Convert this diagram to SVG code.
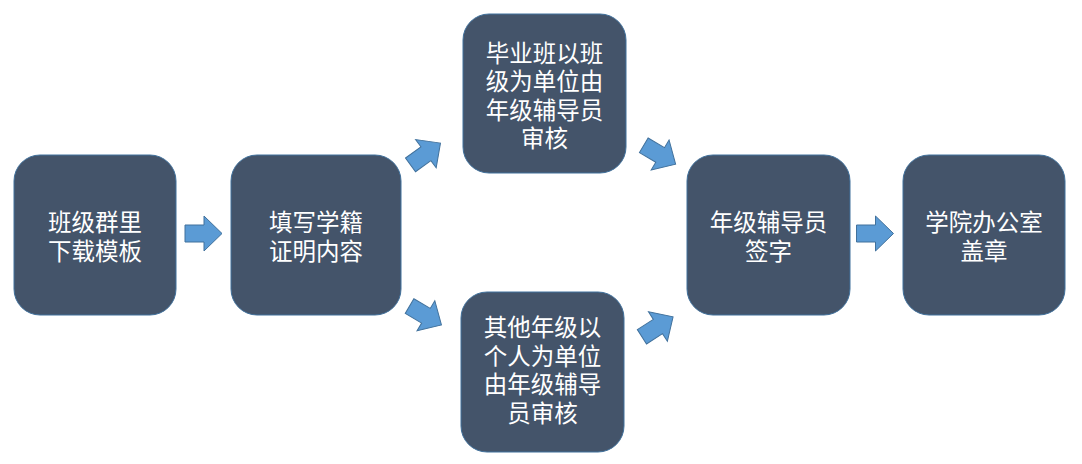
<svg xmlns="http://www.w3.org/2000/svg" width="1082" height="464" viewBox="0 0 1082 464">
<defs>
<style>
.box{fill:#44546A;stroke:#41719C;stroke-width:1}
.t{fill:#FFFFFF;font-family:"Liberation Sans","Noto Sans CJK SC",sans-serif;font-size:23.5px;text-anchor:middle}
.arr{fill:#5B9BD5;stroke:#41719C;stroke-width:1}
</style>
<path id="a" d="M-18.5,-8.5 L0.5,-8.5 L0.5,-17.5 L18.5,0 L0.5,17.5 L0.5,8.5 L-18.5,8.5 Z"/>
</defs>
<rect width="1082" height="464" fill="#FFFFFF"/>
<g id="connectors">
<use href="#a" class="arr" transform="translate(203.5,233.5)"/>
<use href="#a" class="arr" transform="translate(425.5,154) rotate(-36)"/>
<use href="#a" class="arr" transform="translate(425.5,315.5) rotate(30.5)"/>
<use href="#a" class="arr" transform="translate(659.7,154.7) rotate(30.7)"/>
<use href="#a" class="arr" transform="translate(657.5,326.8) rotate(-32.7)"/>
<use href="#a" class="arr" transform="translate(875,233.5)"/>
</g>
<g id="n1">
<rect class="box" x="14" y="155" width="162" height="160" rx="26"/>
<text class="t" x="95" y="231"><tspan x="95">班级群里</tspan><tspan x="95" dy="29">下载模板</tspan></text>
</g>
<g id="n2">
<rect class="box" x="231" y="155" width="170" height="160" rx="26"/>
<text class="t" x="316" y="231"><tspan x="316">填写学籍</tspan><tspan x="316" dy="29">证明内容</tspan></text>
</g>
<g id="n3">
<rect class="box" x="463" y="14" width="163" height="159" rx="26"/>
<text class="t" x="544.5" y="61.5"><tspan x="544.5">毕业班以班</tspan><tspan x="544.5" dy="28.5">级为单位由</tspan><tspan x="544.5" dy="28.5">年级辅导员</tspan><tspan x="544.5" dy="28.5">审核</tspan></text>
</g>
<g id="n4">
<rect class="box" x="461" y="292" width="163" height="160" rx="26"/>
<text class="t" x="542.5" y="336"><tspan x="542.5">其他年级以</tspan><tspan x="542.5" dy="28.5">个人为单位</tspan><tspan x="542.5" dy="28.5">由年级辅导</tspan><tspan x="542.5" dy="28.5">员审核</tspan></text>
</g>
<g id="n5">
<rect class="box" x="687" y="155" width="163" height="160" rx="26"/>
<text class="t" x="768.5" y="231"><tspan x="768.5">年级辅导员</tspan><tspan x="768.5" dy="29">签字</tspan></text>
</g>
<g id="n6">
<rect class="box" x="903" y="155" width="162" height="160" rx="26"/>
<text class="t" x="984" y="231"><tspan x="984">学院办公室</tspan><tspan x="984" dy="29">盖章</tspan></text>
</g>
</svg>
